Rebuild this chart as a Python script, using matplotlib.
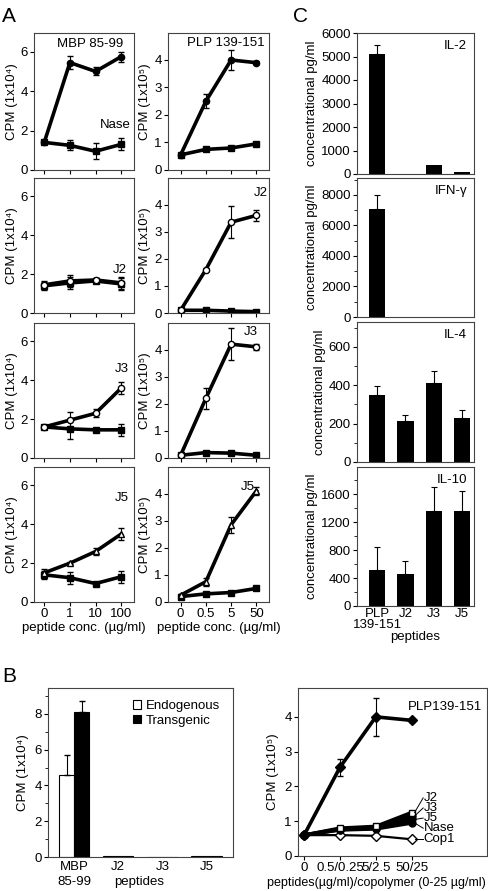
import numpy as np
import matplotlib
matplotlib.use("Agg")
import matplotlib.pyplot as plt
from matplotlib.ticker import MultipleLocator

plt.rcParams['font.family'] = ['Liberation Sans', 'DejaVu Sans']
plt.rcParams['font.size'] = 8
plt.rcParams['axes.linewidth'] = 0.8
plt.rcParams['xtick.major.size'] = 3
plt.rcParams['ytick.major.size'] = 3
plt.rcParams['ytick.minor.size'] = 2

W, H = 488, 891

# ---------------- data ----------------
# Panel A, left column (MBP-specific), x = 0, 1, 10, 100 ug/ml
a_left_x = ["0", "1", "10", "100"]
a_left_labels = ["Nase", "J2", "J3", "J5"]
a_left_up = [[1.4, 5.45, 5.0, 5.75],
             [1.45, 1.65, 1.7, 1.55],
             [1.6, 1.95, 2.3, 3.6],
             [1.5, 2.0, 2.6, 3.5]]
a_left_up_err = [[0.1, 0.35, 0.2, 0.25],
                 [0.2, 0.3, 0.1, 0.3],
                 [0.05, 0.4, 0.2, 0.3],
                 [0.2, 0.05, 0.2, 0.3]]
a_left_low = [[1.4, 1.25, 0.95, 1.3],
              [1.4, 1.55, 1.65, 1.5],
              [1.6, 1.5, 1.45, 1.45],
              [1.4, 1.25, 0.95, 1.3]]
a_left_low_err = [[0.1, 0.25, 0.4, 0.3],
                  [0.2, 0.3, 0.1, 0.3],
                  [0.05, 0.5, 0.05, 0.3],
                  [0.2, 0.3, 0.1, 0.3]]

# Panel A, right column (PLP-specific), x = 0, 0.5, 5, 50 ug/ml
a_right_x = ["0", "0.5", "5", "50"]
a_right_labels = ["", "J2", "J3", "J5"]
a_right_up = [[0.55, 2.5, 4.0, 3.9],
              [0.1, 1.6, 3.35, 3.6],
              [0.1, 2.2, 4.2, 4.1],
              [0.25, 0.75, 2.85, 4.1]]
a_right_up_err = [[0.05, 0.25, 0.35, 0.05],
                  [0.05, 0.05, 0.6, 0.2],
                  [0.05, 0.4, 0.6, 0.1],
                  [0.05, 0.15, 0.3, 0.15]]
a_right_low = [[0.55, 0.75, 0.8, 0.95],
               [0.1, 0.1, 0.07, 0.05],
               [0.1, 0.2, 0.18, 0.1],
               [0.2, 0.3, 0.35, 0.5]]

# Panel C cytokines
c_peptides = ["PLP\n139-151", "J2", "J3", "J5"]
c_names = ["IL-2", "IFN-\u03b3", "IL-4", "IL-10"]
c_vals = [[5100, 0, 380, 80],
          [7100, 0, 0, 0],
          [350, 215, 410, 228],
          [520, 460, 1360, 1360]]
c_errs = [[400, 0, 0, 0],
          [900, 0, 0, 0],
          [45, 30, 65, 45],
          [330, 190, 340, 290]]

# Panel B left
b_peptides = ["MBP\n85-99", "J2", "J3", "J5"]
b_endo = [4.6, 0.03, 0.02, 0.05]
b_endo_err = [1.1, 0, 0, 0]
b_trans = [8.1, 0.03, 0.02, 0.05]
b_trans_err = [0.65, 0, 0, 0]

# Panel B right
br_x = ["0", "0.5/0.25", "5/2.5", "50/25"]
br_names = ["PLP139-151", "J2", "J3", "J5", "Nase", "Cop1"]
br_vals = [[0.6, 2.55, 4.0, 3.9],
           [0.6, 0.8, 0.85, 1.25],
           [0.6, 0.78, 0.82, 1.15],
           [0.6, 0.76, 0.8, 1.05],
           [0.6, 0.75, 0.78, 0.95],
           [0.6, 0.6, 0.58, 0.48]]
br_plp_err = [0.05, 0.25, 0.55, 0.05]

fig = plt.figure(figsize=(W / 100, H / 100), dpi=100)


def ax_px(l, t, r, b):
    return fig.add_axes([l / W, 1 - b / H, (r - l) / W, (b - t) / H])


def style(ax):
    for s in ax.spines.values():
        s.set_color('#444444')
    ax.tick_params(direction='out', pad=1.5, labelsize=9.5)


lw = 2.6
rows = [(33, 170), (178, 313), (323, 458), (467, 602)]
up_markers = ['o', 'o', 'o', '^']
up_fill = ['black', 'white', 'white', 'white']
left_lbl_y = [0.33, 0.32, 0.66, 0.77]
left_lbl_x = [0.97, 0.93, 0.95, 0.95]
right_lbl_y = [0, 0.89, 0.93, 0.85]
right_lbl_x = [0, 0.92, 0.82, 0.79]

# ---------------- panel A ----------------
for i, (t, b) in enumerate(rows):
    # left column
    ax = ax_px(34, t, 134, b)
    style(ax)
    x = np.arange(4)
    ax.errorbar(x, a_left_up[i], yerr=a_left_up_err[i], color='black', lw=lw,
                marker=up_markers[i], mfc=up_fill[i], mec='black', ms=4.5,
                ecolor='black', elinewidth=0.8, capsize=2.5, zorder=3)
    ax.errorbar(x, a_left_low[i], yerr=a_left_low_err[i], color='black', lw=lw,
                marker='s', mfc='black', mec='black', ms=4,
                ecolor='black', elinewidth=0.8, capsize=2.5, zorder=2)
    ax.set_xlim(-0.4, 3.5)
    ax.set_ylim(0, 6.95)
    ax.set_yticks([0, 2, 4, 6])
    ax.set_xticks(x)
    ax.set_ylabel("CPM (1x10\u2074)", fontsize=9.5, labelpad=2)
    if i == 0:
        ax.text(0.89, 0.96, "MBP 85-99", transform=ax.transAxes, ha='right', va='top', fontsize=9.5)
    ax.text(left_lbl_x[i], left_lbl_y[i], a_left_labels[i], transform=ax.transAxes,
            ha='right', va='center', fontsize=9.5)
    if i == 3:
        ax.set_xticklabels(a_left_x)
        ax.set_xlabel("peptide conc. (\u00b5g/ml)", fontsize=9.5, labelpad=1)
    else:
        ax.set_xticklabels([])

    # right column
    ax = ax_px(168, t, 269, b)
    style(ax)
    ax.errorbar(x, a_right_up[i], yerr=a_right_up_err[i], color='black', lw=lw,
                marker=up_markers[i], mfc=up_fill[i], mec='black', ms=4.5,
                ecolor='black', elinewidth=0.8, capsize=2.5, zorder=3)
    ax.plot(x, a_right_low[i], color='black', lw=lw, marker='s', ms=4, zorder=2)
    ax.set_xlim(-0.5, 3.5)
    ax.set_ylim(0, 4.98)
    ax.set_yticks([0, 1, 2, 3, 4])
    ax.set_xticks(x)
    ax.set_ylabel("CPM (1x10\u2075)", fontsize=9.5, labelpad=2)
    if i == 0:
        ax.text(0.57, 0.97, "PLP 139-151", transform=ax.transAxes, ha='center', va='top', fontsize=9.5)
    else:
        ax.text(right_lbl_x[i], right_lbl_y[i], a_right_labels[i], transform=ax.transAxes,
                ha='center', va='center', fontsize=9.5)
    if i == 3:
        ax.set_xticklabels(a_right_x)
        ax.set_xlabel("peptide conc. (\u00b5g/ml)", fontsize=9.5, labelpad=1)
    else:
        ax.set_xticklabels([])

# ---------------- panel C ----------------
c_rows = [(33, 174), (178, 317), (322, 462), (467, 606)]
c_ylims = [6000, 9100, 730, 1990]
c_major = [1000, 2000, 200, 400]
c_minor = [1000, 1000, 100, 200]
for i, (t, b) in enumerate(c_rows):
    ax = ax_px(357, t, 474, b)
    style(ax)
    x = np.arange(4)
    ax.bar(x, c_vals[i], width=0.57, color='black')
    for xi, v, e in zip(x, c_vals[i], c_errs[i]):
        if e > 0:
            ax.errorbar(xi, v, yerr=[[0], [e]], color='black', elinewidth=0.8, capsize=2.5, capthick=0.8)
    ax.set_xlim(-0.72, 3.43)
    ax.set_ylim(0, c_ylims[i])
    ax.yaxis.set_major_locator(MultipleLocator(c_major[i]))
    ax.yaxis.set_minor_locator(MultipleLocator(c_minor[i]))
    ax.set_ylabel("concentrational pg/ml", fontsize=9.5, labelpad=2)
    ax.text(0.94, 0.95, c_names[i], transform=ax.transAxes, ha='right', va='top', fontsize=9.5)
    ax.set_xticks(x)
    ax.tick_params(axis='x', length=0)
    if i == 3:
        ax.set_xticklabels(c_peptides, linespacing=0.85)
        ax.set_xlabel("peptides", fontsize=9.5, labelpad=0)
    else:
        ax.set_xticklabels([])

# ---------------- panel B left ----------------
ax = ax_px(48, 688, 233, 857)
style(ax)
x = np.arange(4)
bw = 0.34
ax.bar(x - bw / 2, b_endo, width=bw, color='white', edgecolor='black', lw=0.8, label='Endogenous')
ax.bar(x + bw / 2, b_trans, width=bw, color='black', edgecolor='black', lw=0.8, label='Transgenic')
ax.errorbar(x[:1] - bw / 2, b_endo[:1], yerr=[[0], b_endo_err[:1]], fmt='none', ecolor='black', elinewidth=0.8, capsize=2.5)
ax.errorbar(x[:1] + bw / 2, b_trans[:1], yerr=[[0], b_trans_err[:1]], fmt='none', ecolor='black', elinewidth=0.8, capsize=2.5)
ax.set_xlim(-0.59, 3.6)
ax.set_ylim(0, 9.45)
ax.yaxis.set_major_locator(MultipleLocator(2))
ax.yaxis.set_minor_locator(MultipleLocator(1))
ax.set_xticks(x)
ax.set_xticklabels(b_peptides, linespacing=1.3)
ax.tick_params(axis='x', length=0, pad=3)
ax.set_ylabel("CPM (1x10\u2074)", fontsize=9.5, labelpad=4)
fig.text(139 / W, 1 - 882 / H, "peptides", ha='center', va='center', fontsize=9.5)
ax.legend(loc='upper left', bbox_to_anchor=(0.43, 0.96), frameon=False, fontsize=9.5,
          handlelength=0.6, handleheight=0.6, handletextpad=0.4, labelspacing=0.2, borderaxespad=0.0)

# ---------------- panel B right ----------------
ax = ax_px(298, 688, 487, 856)
style(ax)
x = np.arange(4)
br_marker = ['D', 's', 'o', 'o', 'o', 'D']
br_fill = ['black', 'white', 'black', 'black', 'black', 'white']
for k in range(len(br_names) - 1, -1, -1):
    ax.plot(x, br_vals[k], color='black', lw=lw if k < 5 else 1.6, marker=br_marker[k],
            mfc=br_fill[k], mec='black', ms=5, zorder=3 if k == 0 else 2)
ax.errorbar(x, br_vals[0], yerr=br_plp_err, fmt='none', ecolor='black', elinewidth=0.8, capsize=2.5)
ax.set_xlim(-0.17, 5.1)
ax.set_ylim(0, 4.83)
ax.set_yticks([0, 1, 2, 3, 4])
ax.set_xticks(x)
ax.set_xticklabels(br_x)
ax.set_ylabel("CPM (1x10\u2075)", fontsize=9.5, labelpad=4)
fig.text(376 / W, 1 - 883 / H, "peptides(\u00b5g/ml)/copolymer (0-25 \u00b5g/ml)",
         ha='center', va='center', fontsize=9.0)
ax.text(2.9, 4.29, br_names[0], ha='left', va='center', fontsize=9.5)
label_y = [1.67, 1.38, 1.09, 0.8, 0.48]
for k, ly in zip(range(1, 6), label_y):
    ax.plot([3.08, 3.32], [br_vals[k][3], ly], color='black', lw=0.7)
    ax.text(3.33, ly, br_names[k], ha='left', va='center', fontsize=9.5)

# panel letters
fig.text(2 / W, 1 - 16 / H, "A", fontsize=15, va='center', ha='left')
fig.text(293 / W, 1 - 16 / H, "C", fontsize=15, va='center', ha='left')
fig.text(2 / W, 1 - 677 / H, "B", fontsize=15, va='center', ha='left')

fig.savefig("out.png", dpi=100)
